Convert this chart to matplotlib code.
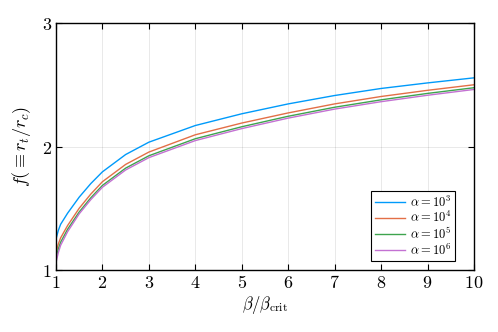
import matplotlib
matplotlib.use("Agg")
import matplotlib.pyplot as plt

plt.rcParams['mathtext.fontset'] = 'cm'
plt.rcParams['font.family'] = ['DejaVu Serif']

beta = [1.0, 1.05, 1.1, 1.25, 1.5, 1.75, 2, 2.5, 3, 4, 5, 6, 7, 8, 9, 10]
f_a3 = [1.25, 1.32, 1.37, 1.46, 1.59, 1.70, 1.795, 1.935, 2.035, 2.17, 2.265, 2.345, 2.413, 2.47, 2.515, 2.556]
f_a4 = [1.14, 1.21, 1.26, 1.36, 1.50, 1.615, 1.715, 1.855, 1.955, 2.095, 2.19, 2.272, 2.345, 2.405, 2.455, 2.50]
f_a5 = [1.10, 1.17, 1.225, 1.33, 1.47, 1.585, 1.685, 1.825, 1.925, 2.063, 2.16, 2.245, 2.318, 2.378, 2.43, 2.476]
f_a6 = [1.06, 1.14, 1.20, 1.31, 1.455, 1.57, 1.67, 1.81, 1.91, 2.048, 2.145, 2.23, 2.303, 2.363, 2.415, 2.462]
labels = [r'$\alpha=10^3$', r'$\alpha=10^4$', r'$\alpha=10^5$', r'$\alpha=10^6$']
colors = ['#009AFA', '#E36F47', '#3EA44E', '#C371D2']
xticks = [1, 2, 3, 4, 5, 6, 7, 8, 9, 10]
yticks = [1, 2, 3]

fig = plt.figure(figsize=(4.98, 3.32), dpi=100)
ax = fig.add_axes([0.1124, 0.1867, 0.8394, 0.744])
for ys, lab, c in zip([f_a3, f_a4, f_a5, f_a6], labels, colors):
    ax.plot(beta, ys, color=c, lw=1.0, label=lab)

ax.set_xlim(1, 10)
ax.set_ylim(1, 3)
ax.set_xticks(xticks)
ax.set_xticklabels([f'${t}$' for t in xticks])
ax.set_yticks(yticks)
ax.set_yticklabels([f'${t}$' for t in yticks])
ax.tick_params(direction='in', length=4, width=0.8, labelsize=13, top=True, right=True, pad=3)
ax.grid(True, color='black', alpha=0.1, lw=0.6)
for s in ax.spines.values():
    s.set_linewidth(1.0)
ax.set_xlabel(r'$\beta/\beta_{\rm crit}$', fontsize=12, labelpad=1)
ax.set_ylabel(r'$f(\equiv r_t/r_c)$', fontsize=13, labelpad=6)
leg = ax.legend(loc='lower right', fontsize=9, frameon=True, fancybox=False,
                edgecolor='black', framealpha=1, handlelength=2.4,
                borderpad=0.3, labelspacing=0.05, handletextpad=0.4,
                bbox_to_anchor=(0.97, 0.01))
leg.get_frame().set_linewidth(0.8)
fig.savefig('out.png', dpi=100)
